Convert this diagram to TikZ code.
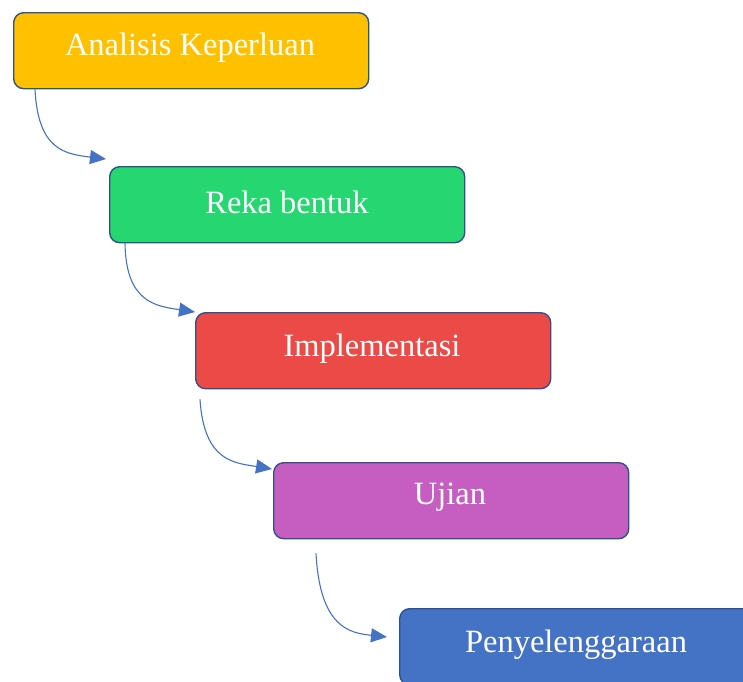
\documentclass[tikz,border=0pt]{standalone}
\usepackage{fontspec}
\setmainfont{Liberation Serif}
\usetikzlibrary{arrows.meta,calc}
\definecolor{cyellow}{HTML}{FFC000}
\definecolor{cgreen}{HTML}{26D670}
\definecolor{cred}{HTML}{EC4A46}
\definecolor{cpurple}{HTML}{C55EC0}
\definecolor{cblue}{HTML}{4472C4}
\definecolor{cborder}{HTML}{2F528F}
\definecolor{carrow}{HTML}{4472C4}
\tikzset{
  phase/.style={draw=cborder, line width=1.4pt, rounded corners=10pt,
    minimum width=355pt, minimum height=76pt, inner sep=0pt},
  label/.style={text=white, font=\fontsize{32.5}{38}\selectfont},
  flow/.style={draw=carrow, line width=1.1pt,
    -{Triangle[length=16pt,width=14pt]}}
}
\begin{document}
\begin{tikzpicture}[x=1pt,y=-1pt]
\useasboundingbox (0,0) rectangle (743,681);
\node[phase, fill=cyellow, anchor=north west] (a) at (13,12) {};
\node[phase, fill=cgreen,  anchor=north west] (b) at (109,166) {};
\node[phase, fill=cred,    anchor=north west] (c) at (195,312) {};
\node[phase, fill=cpurple, anchor=north west] (d) at (273,462) {};
\node[phase, fill=cblue,   anchor=north west] (e) at (399,608) {};
\node[label] (ta) at (190,48) {Analisis Keperluan};
\node[label] (tb) at (287,202) {Reka bentuk};
\node[label] (tc) at (372,349) {Implementasi};
\node[label] (td) at (450,497) {Ujian};
\node[label] (te) at (576,645) {Penyelenggaraan};
\coordinate (s1) at ($(a.south west)+(22,0)$);
\coordinate (t1) at ($(b.north west)+(-3,-7)$);
\coordinate (s2) at ($(b.south west)+(16,0)$);
\coordinate (t2) at ($(c.north west)+(0,0)$);
\coordinate (s3) at ($(c.south west)+(5,10)$);
\coordinate (t3) at ($(d.north west)+(-1,7)$);
\coordinate (s4) at ($(d.south west)+(43,14)$);
\coordinate (t4) at ($(e.north west)+(-12,29)$);
\draw[flow] (s1) .. controls (38,150) and (65,154) .. (t1);
\draw[flow] (s2) .. controls (126,302) and (155,306) .. (t2);
\draw[flow] (s3) .. controls (204,462) and (235,463) .. (t3);
\draw[flow] (s4) .. controls (320,628) and (350,633) .. (t4);
\end{tikzpicture}
\end{document}
